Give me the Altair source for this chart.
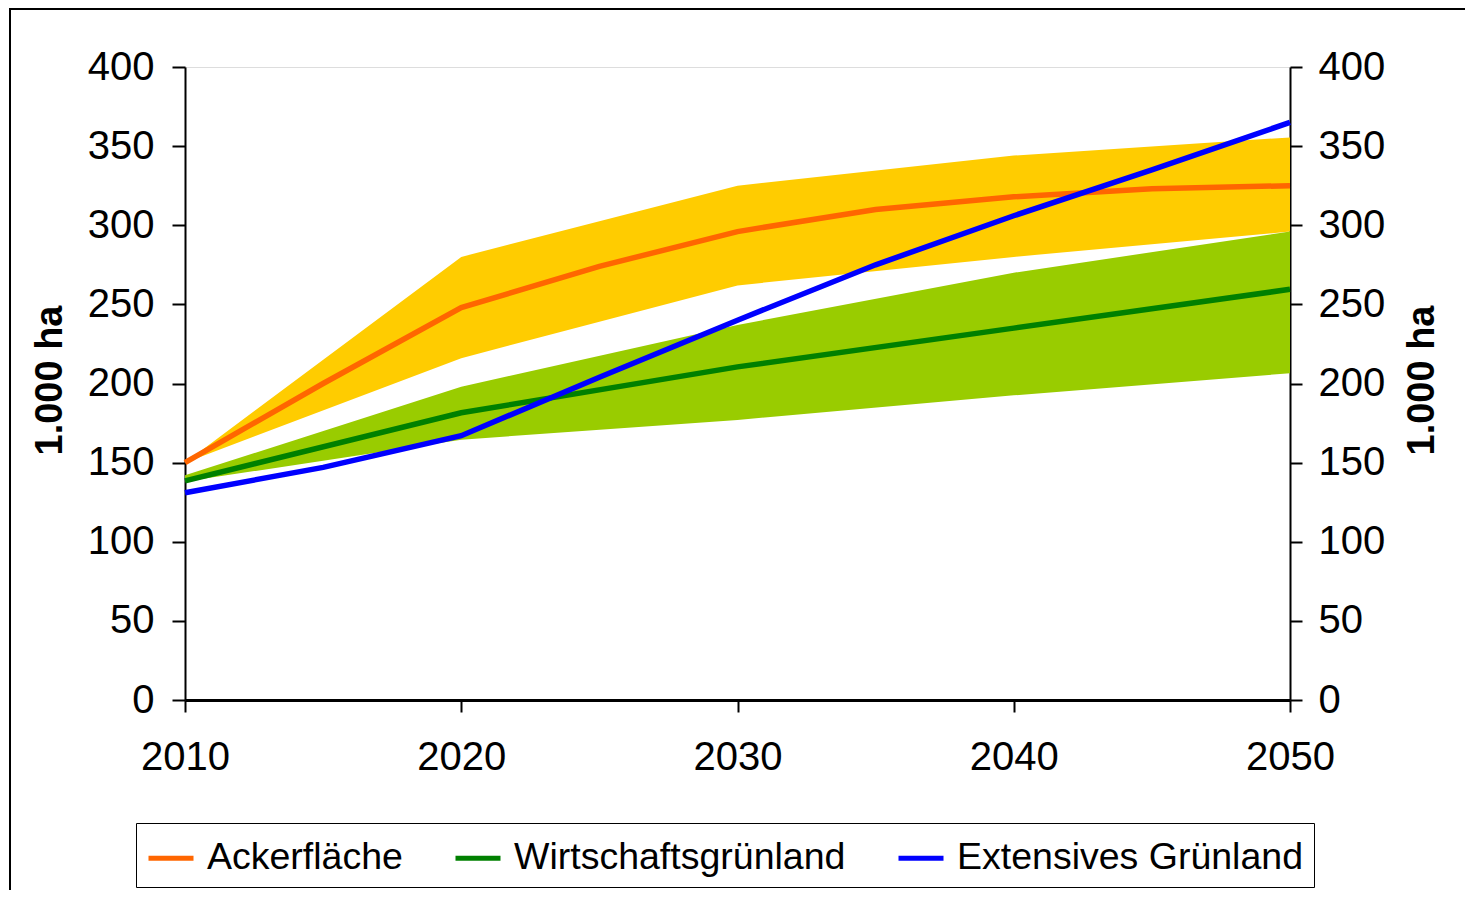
import altair as alt
import pandas as pd

# ---- data ----
line_years = [2010, 2015, 2020, 2025, 2030, 2035, 2040, 2045, 2050]
ackerflaeche = [150, 200, 248, 274, 296, 310, 318, 323, 325]
extensiv = [131, 147, 167, 204, 240, 275, 306, 335, 365]

decade_years = [2010, 2020, 2030, 2040, 2050]
wirtschaft = [138.5, 181.5, 210.5, 235, 259.5]

acker_hi = [150, 280, 325, 344, 355.5]
acker_lo = [150, 216, 262, 280, 296]
gruen_hi = [142, 198, 237, 270, 296]
gruen_lo = [138, 164.5, 177, 192.5, 206.5]

series_names = ["Ackerfläche", "Wirtschaftsgrünland", "Extensives Grünland"]
series_colors = ["#FF6600", "#008000", "#0000FF"]

# ---- tables ----
rows = []
for y, v in zip(line_years, ackerflaeche):
    rows.append({"year": y, "value": v, "series": series_names[0], "order": 0})
for y, v in zip(decade_years, wirtschaft):
    rows.append({"year": y, "value": v, "series": series_names[1], "order": 1})
for y, v in zip(line_years, extensiv):
    rows.append({"year": y, "value": v, "series": series_names[2], "order": 2})
lines_df = pd.DataFrame(rows)

band_df = pd.DataFrame({
    "year": decade_years,
    "acker_hi": acker_hi, "acker_lo": acker_lo,
    "gruen_hi": gruen_hi, "gruen_lo": gruen_lo,
})

FONT = "Liberation Sans"

x_axis = alt.Axis(values=[2010, 2020, 2030, 2040, 2050], format="d", title=None,
                  labelFontSize=40, labelFont=FONT, labelColor="black",
                  tickSize=12, tickColor="black", tickWidth=2,
                  domainColor="black", domainWidth=3, labelPadding=25,
                  grid=False, labelFlush=False)
x_enc = alt.X("year:Q", scale=alt.Scale(domain=[2010, 2050], nice=False), axis=x_axis)

y_scale = alt.Scale(domain=[0, 400], nice=False)

left_axis = alt.Axis(orient="left", values=list(range(0, 401, 50)), grid=False,
                     title="1.000 ha", titleFont=FONT, titleFontSize=38, titleFontWeight="bold",
                     titleColor="black", titleAngle=270, titleX=-135, titleY=313,
                     titleAlign="center", titleBaseline="middle",
                     labelFontSize=40, labelFont=FONT, labelColor="black", labelPadding=18,
                     tickSize=13, tickColor="black", tickWidth=2,
                     domainColor="black", domainWidth=2)

right_axis = alt.Axis(orient="right", values=list(range(0, 401, 50)), grid=False,
                      title="1.000 ha", titleFont=FONT, titleFontSize=38, titleFontWeight="bold",
                      titleColor="black", titleAngle=270, titleX=132, titleY=313,
                      titleAlign="center", titleBaseline="middle",
                      labelFontSize=40, labelFont=FONT, labelColor="black", labelPadding=16,
                      tickSize=12, tickColor="black", tickWidth=2,
                      domainColor="black", domainWidth=2)

band_acker = alt.Chart(band_df).mark_area(color="#FFCC00", opacity=1).encode(
    x=x_enc,
    y=alt.Y("acker_lo:Q", scale=y_scale, axis=left_axis),
    y2="acker_hi:Q",
)
band_gruen = alt.Chart(band_df).mark_area(color="#99CC00", opacity=1).encode(
    x=x_enc,
    y=alt.Y("gruen_lo:Q", scale=y_scale, axis=left_axis),
    y2="gruen_hi:Q",
)
lines = alt.Chart(lines_df).mark_line(strokeWidth=5.5).encode(
    x=x_enc,
    y=alt.Y("value:Q", scale=y_scale, axis=left_axis),
    color=alt.Color("series:N",
                    scale=alt.Scale(domain=series_names, range=series_colors),
                    legend=alt.Legend(orient="none", direction="horizontal",
                                      legendX=-49, legendY=756, title=None,
                                      symbolType="stroke", symbolSize=2025,
                                      symbolStrokeWidth=5, labelFont=FONT,
                                      labelFontSize=37.5, labelColor="black",
                                      labelOffset=11, columnPadding=42,
                                      padding=10, strokeColor="black",
                                      labelLimit=600)),
    order=alt.Order("order:Q"),
)

left_group = alt.layer(band_acker, band_gruen, lines)

right_dummy = alt.Chart(lines_df).mark_line(opacity=0).encode(
    x=x_enc,
    y=alt.Y("value:Q", scale=y_scale, axis=right_axis),
    detail="series:N",
)

frame = alt.Chart(pd.DataFrame({"k": [0]})).mark_rect(
    fill="transparent", stroke="black", strokeWidth=2
).encode(x=alt.value(-175), x2=alt.value(1400), y=alt.value(-58), y2=alt.value(1000))

chart = alt.layer(left_group, right_dummy, frame).resolve_scale(y="independent").properties(
    width=1105, height=633,
    autosize=alt.AutoSizeParams(type="none"),
    padding={"left": 177, "top": 59, "right": 175, "bottom": 190},
).configure_view(stroke="#808080", strokeWidth=1).configure(background="white")

chart.save("out.html", embed_options={"renderer": "svg", "actions": False})
